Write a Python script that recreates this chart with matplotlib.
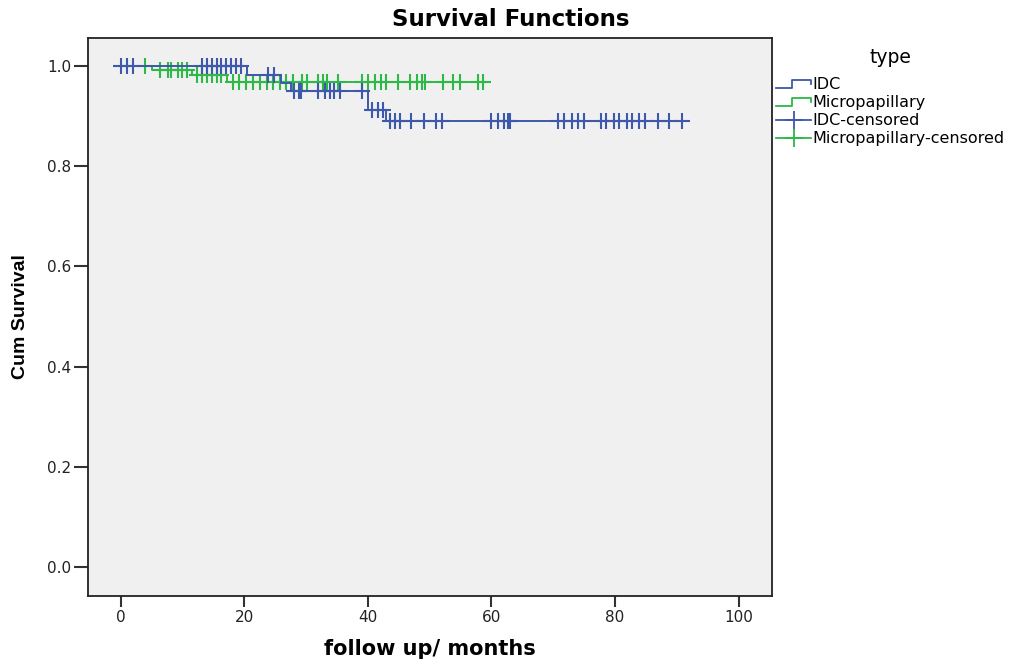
import numpy as np
import matplotlib
matplotlib.use("Agg")
import matplotlib.pyplot as plt
from matplotlib.lines import Line2D
from matplotlib.legend_handler import HandlerBase

# ---- data ----
idc_step_times = [0.0, 20.5, 26.0, 27.6, 40.0, 43.0, 91.7]
idc_step_surv = [1.0, 0.982, 0.966, 0.950, 0.912, 0.890, 0.890]
idc_censored = [0.0, 1.0, 2.0, 13.1, 13.9, 14.7, 15.5, 16.3, 17.1, 17.9, 18.7, 19.5,
                23.8, 24.8,
                28.0, 28.8, 29.2, 32.0, 33.0, 33.8, 34.5, 35.5, 39.0,
                40.6, 41.6, 42.4,
                43.6, 44.4, 45.2, 47.0, 49.0, 51.0, 52.0,
                60.0, 61.0, 62.0, 62.6, 63.0,
                70.7, 71.8, 73.0, 74.0, 75.0,
                77.8, 78.6, 79.8, 80.7, 81.9, 82.8, 83.8, 84.8, 86.9, 88.8, 90.9]

mp_step_times = [0.0, 5.0, 11.5, 17.2, 59.7]
mp_step_surv = [1.0, 0.992, 0.982, 0.968, 0.968]
mp_censored = [4.0, 6.3, 7.6, 8.2, 9.2, 9.9, 10.8,
               12.3, 13.1, 13.9, 14.7, 15.5, 16.3,
               18.2, 19.2, 20.3, 21.4, 22.5, 23.6, 24.7, 25.7, 26.8, 27.9,
               29.3, 30.1, 31.9, 32.7, 33.3, 35.1, 39.0, 40.0, 41.1, 42.2, 43.0,
               44.8, 46.8, 47.9, 48.7, 49.2, 52.1, 53.7, 54.9, 57.8, 58.6]

group_labels = ["IDC", "Micropapillary", "IDC-censored", "Micropapillary-censored"]
x_ticks = [0, 20, 40, 60, 80, 100]
y_ticks = [0.0, 0.2, 0.4, 0.6, 0.8, 1.0]

BLUE = "#3E58AC"
GREEN = "#2EB848"

plt.rcParams['font.family'] = ['DejaVu Sans']


def surv_at(times, surv, t):
    idx = np.searchsorted(np.asarray(times), np.asarray(t), side='right') - 1
    return np.asarray(surv)[np.clip(idx, 0, len(surv) - 1)]


fig = plt.figure(figsize=(10.12, 6.59), dpi=100)
fig.patch.set_facecolor('white')
ax = fig.add_axes([88 / 1012, 1 - 596 / 659, (772 - 88) / 1012, (596 - 38) / 659])
ax.set_facecolor('#F0F0F0')

ax.step(idc_step_times, idc_step_surv, where='post', color=BLUE, lw=1.4, zorder=3)
ax.step(mp_step_times, mp_step_surv, where='post', color=GREEN, lw=1.4, zorder=2)
ax.plot(idc_censored, surv_at(idc_step_times, idc_step_surv, idc_censored), ls='none',
        marker='+', ms=11, mew=1.5, color=BLUE, zorder=3)
ax.plot(mp_censored, surv_at(mp_step_times, mp_step_surv, mp_censored), ls='none',
        marker='+', ms=11, mew=1.5, color=GREEN, zorder=2)

ax.set_xlim(-5.3, 105.4)
ax.set_ylim(-0.058, 1.056)
ax.set_xticks(x_ticks)
ax.set_yticks(y_ticks)
ax.set_yticklabels([f"{v:.1f}" for v in y_ticks])
for s in ax.spines.values():
    s.set_color('#222222')
    s.set_linewidth(1.3)
ax.tick_params(axis='both', direction='out', width=1.5, color='#333333',
               labelsize=11, labelcolor='#222222')
ax.tick_params(axis='x', length=8, pad=2)
ax.tick_params(axis='y', length=10, pad=2)

ax.set_xlabel("follow up/ months", fontsize=15, fontweight='bold', labelpad=10)
ax.set_ylabel("Cum Survival", fontsize=14, fontweight='bold', labelpad=13,
              family='Liberation Sans')
fig.suptitle("Survival Functions", x=0.505, y=1 - 19 / 659, va='center',
             fontsize=16.5, fontweight='bold')


class StepHandler(HandlerBase):
    def create_artists(self, legend, orig_handle, xdescent, ydescent, width, height,
                       fontsize, trans):
        x0 = -xdescent
        y0 = -ydescent
        xs = [x0, x0 + 0.45 * width, x0 + 0.45 * width, x0 + width, x0 + width]
        ys = [y0 + 0.1 * height, y0 + 0.1 * height, y0 + 0.8 * height,
              y0 + 0.8 * height, y0 + 0.4 * height]
        ln = Line2D(xs, ys, color=orig_handle.get_color(), lw=1.3)
        ln.set_transform(trans)
        return [ln]


h_idc = Line2D([], [], color=BLUE, lw=1.3)
h_mp = Line2D([], [], color=GREEN, lw=1.3)
h_idc_c = Line2D([], [], color=BLUE, lw=1.3, marker='+', ms=13, mew=1.3, markevery=[1])
h_mp_c = Line2D([], [], color=GREEN, lw=1.3, marker='+', ms=13, mew=1.3, markevery=[1])

leg = fig.legend([h_idc, h_mp, h_idc_c, h_mp_c], group_labels,
                 loc='upper left', bbox_to_anchor=(776 / 1012, 1 - 48 / 659),
                 frameon=False, title='type', fontsize=11.5, title_fontsize=13.5,
                 handlelength=2.2, handletextpad=0.1, labelspacing=0.2,
                 borderaxespad=0, borderpad=0,
                 handler_map={h_idc: StepHandler(), h_mp: StepHandler()})
leg._legend_box.align = 'center'
leg._legend_box.sep = 7

fig.savefig("out.png", dpi=100, facecolor='white')
